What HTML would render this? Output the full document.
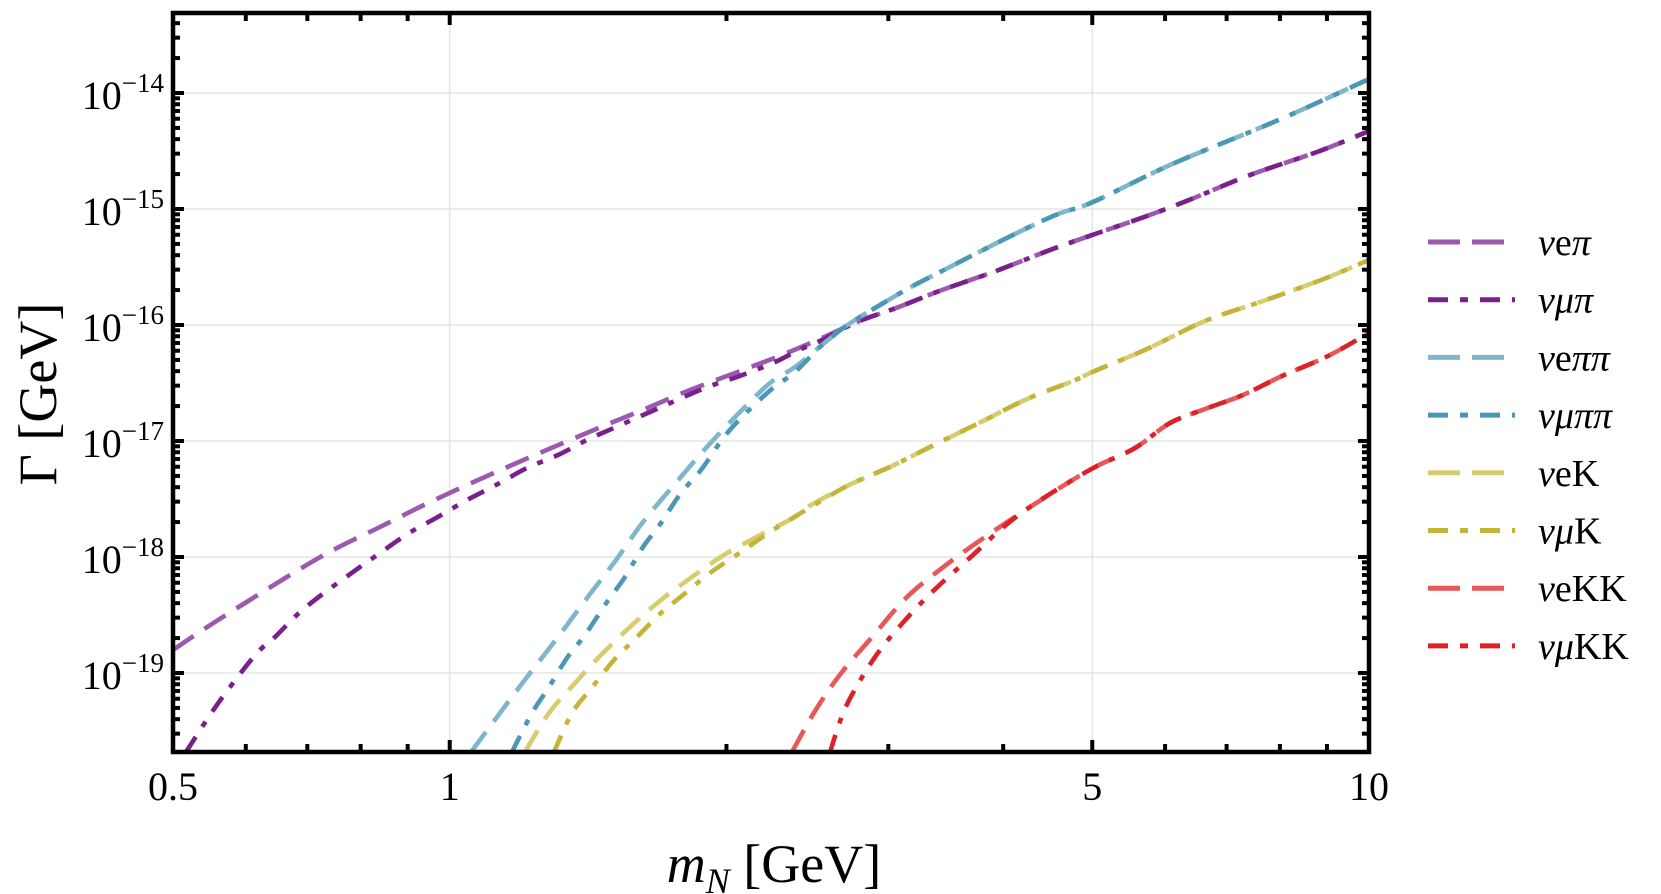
<!DOCTYPE html>
<html><head><meta charset="utf-8"><style>
html,body{margin:0;padding:0;background:#fff;}
svg{display:block;font-family:"Liberation Serif",serif;}
</style></head><body>
<svg id="s" width="1661" height="894" viewBox="0 0 1661 894" xmlns="http://www.w3.org/2000/svg">
<g id="grid"></g>
<g id="curves" fill="none" stroke-width="4.6" stroke-linejoin="round"></g>
<rect x="173" y="13" width="1196" height="739" fill="none" stroke="#000" stroke-width="4.5"/>
<g id="ticks" stroke="#000" stroke-width="4"></g>
<g id="labels" font-size="40" fill="#000"></g>
<text x="774" y="882" font-size="54" text-anchor="middle"><tspan font-style="italic">m</tspan><tspan font-style="italic" font-size="36" dy="11">N</tspan><tspan dy="-11"> [GeV]</tspan></text>
<text transform="translate(56,394) rotate(-90)" font-size="54" text-anchor="middle">Γ [GeV]</text>
<g id="legend" font-size="38"></g>
</svg>
<script>
var NS="http://www.w3.org/2000/svg";
function el(p,t,a,txt){var e=document.createElementNS(NS,t);for(var k in a)e.setAttribute(k,a[k]);if(txt!=null)e.textContent=txt;document.getElementById(p).appendChild(e);return e;}
var L=173,R=1369,T=13,B=752;
function X(m){return L+(Math.log10(m)-Math.log10(0.5))/Math.log10(20)*(R-L);}
function Y(e){return 93+(-14-e)*116;}
[1,5].forEach(function(m){el("grid","line",{x1:X(m),x2:X(m),y1:T,y2:B,stroke:"#e6e6e6","stroke-width":1.5});});
for(var d=-14;d>=-19;d--){el("grid","line",{x1:L,x2:R,y1:Y(d),y2:Y(d),stroke:"#e6e6e6","stroke-width":1.5});}
for(var d=-13;d>=-20;d--){for(var k=1;k<=9;k++){var y=93+(-14-(d+Math.log10(k)))*116;if(y<T+2||y>B-2)continue;var len=k==1?11:7;
el("ticks","line",{x1:L,x2:L+len,y1:y,y2:y});el("ticks","line",{x1:R,x2:R-len,y1:y,y2:y});}}
[0.6,0.7,0.8,0.9,1,2,3,4,5,6,7,8,9].forEach(function(m){var x=X(m),len=(m==1||m==5)?12:8;el("ticks","line",{x1:x,x2:x,y1:B,y2:B-len});el("ticks","line",{x1:x,x2:x,y1:T,y2:T+len});});
[["0.5",0.5],["1",1],["5",5],["10",10]].forEach(function(a){el("labels","text",{x:X(a[1]),y:800,"text-anchor":"middle"},a[0]);});
for(var d=-14;d>=-19;d--){var t=el("labels","text",{x:164,y:Y(d)+16,"text-anchor":"end"});
var a=document.createElementNS(NS,"tspan");a.textContent="10";t.appendChild(a);
var b=document.createElementNS(NS,"tspan");b.setAttribute("font-size","27");b.setAttribute("dy","-17");b.textContent="−"+(-d);t.appendChild(b);}
function cr(P){var s="M"+P[0][0]+","+P[0][1];for(var i=0;i<P.length-1;i++){var p0=P[i-1]||P[i],p1=P[i],p2=P[i+1],p3=P[i+2]||p2;
s+=" C"+(p1[0]+(p2[0]-p0[0])/6).toFixed(1)+","+(p1[1]+(p2[1]-p0[1])/6).toFixed(1)+" "+(p2[0]-(p3[0]-p1[0])/6).toFixed(1)+","+(p2[1]-(p3[1]-p1[1])/6).toFixed(1)+" "+p2[0]+","+p2[1];}return s;}
var DASH="25 13",DD="18 12 6 12";
var purpleTail=[[822,338],[857,322],[896,308],[942,290],[996,271],[1050,250],[1095,234],[1147,216],[1189,200],[1250,175],[1317,152],[1369,131]];
var blueTail=[[822,345],[849,324],[880,305],[911,287],[942,271],[981,251],[1019,232],[1058,214],[1093,202],[1170,165],[1250,132],[1290,115],[1330,97],[1369,79]];
var yelTail=[[849,485],[892,466],[934,445],[981,422],[1027,399],[1073,381],[1097,370],[1147,349],[1205,321],[1263,301],[1321,280],[1369,260]];
var redTail=[[985,537],[1027,509],[1066,484],[1097,466],[1135,448],[1170,423],[1205,409],[1243,395],[1282,376],[1328,356],[1369,333]];
var S=[
["#9b59b0",DASH,[[173,650],[215,622],[295,572],[337,548],[380,527],[424,505],[467,485],[512,465],[556,446],[601,427],[645,409],[690,390],[735,373],[782,355],[822,338]].concat(purpleTail.slice(1))],
["#7a1f8c",DD,[[186,752],[210,715],[230,687],[257,653],[275,637],[299,613],[324,593],[353,572],[380,553],[409,533],[436,518],[467,500],[496,485],[527,468],[558,455],[587,440],[616,427],[650,412],[677,400],[710,386],[737,377],[773,363],[799,350],[822,340]].concat(purpleTail.slice(1))],
["#7fb6cc",DASH,[[471,752],[500,713],[527,677],[558,637],[587,598],[616,560],[643,522],[674,485],[706,448],[739,413],[770,383],[795,367]].concat(blueTail)],
["#4a98b5",DD,[[512,752],[532,713],[549,687],[567,658],[585,635],[607,602],[625,577],[643,547],[661,523],[681,493],[701,470],[724,437],[746,413],[773,388],[795,372]].concat(blueTail)],
["#d7cc70",DASH,[[525,752],[549,713],[576,682],[599,657],[630,627],[661,600],[692,577],[724,555],[764,533],[795,517],[811,505]].concat(yelTail)],
["#c4b53a",DD,[[554,752],[572,713],[590,690],[614,660],[634,640],[661,613],[683,595],[710,573],[741,552],[773,530],[811,507]].concat(yelTail)],
["#e85858",DASH,[[792,752],[815,711],[842,672],[873,636],[907,597],[946,565]].concat(redTail)],
["#dc2226",DD,[[830,752],[844,711],[861,679],[880,650],[900,626],[923,601],[946,579],[973,555],[1000,530]].concat(redTail.slice(1))]
];
S.forEach(function(s){el("curves","path",{d:cr(s[2]),stroke:s[0],"stroke-dasharray":s[1]});});
var names=["νeπ","νμπ","νeππ","νμππ","νeK","νμK","νeKK","νμKK"];
names.forEach(function(n,i){var y=242+i*57.7;el("legend","line",{x1:1428,x2:1515,y1:y,y2:y,stroke:S[i][0],"stroke-width":5,"stroke-dasharray":i%2?"20 12 8 12":"32 12"});
var t=el("legend","text",{x:1538,y:y+13});
var greek=n.replace(/K/g,"");var K=n.slice(greek.length);
for(var c of greek){var sp=document.createElementNS(NS,"tspan");if(c!="e")sp.setAttribute("font-style","italic");sp.textContent=c;t.appendChild(sp);}
if(K){var kk=document.createElementNS(NS,"tspan");kk.textContent=K;t.appendChild(kk);}
});
</script>
</body></html>
